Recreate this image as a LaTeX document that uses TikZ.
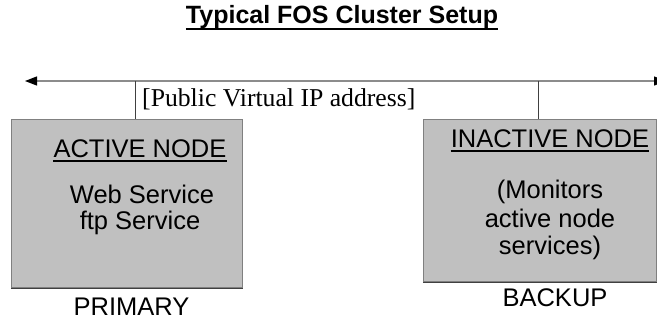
\documentclass[tikz,border=0pt]{standalone}
\usepackage{fontspec}
\setmainfont{Liberation Sans}
\newfontfamily\timesfont{Liberation Serif}
\usetikzlibrary{arrows.meta}
\definecolor{boxfill}{HTML}{C0C0C0}
\definecolor{boxedge}{HTML}{808080}
\definecolor{boxshadow}{HTML}{404040}
\definecolor{busline}{HTML}{8C8C8C}
\tikzset{
  nodebox/.style={rectangle, fill=boxfill, draw=boxedge, line width=1.2pt, inner sep=0pt, anchor=north west},
  txt/.style={inner sep=0pt, anchor=base, font=\fontsize{25.5}{30}\selectfont},
  ttl/.style={inner sep=0pt, anchor=base, font=\fontsize{25}{30}\selectfont\bfseries},
  ipl/.style={inner sep=0pt, anchor=base west, font=\fontsize{25.7}{30}\selectfont\timesfont},
  uline/.style={line width=1.5pt, black},
  tip/.style={line width=1pt, boxshadow},
}
\begin{document}
\begin{tikzpicture}[x=1pt, y=-1pt]
\useasboundingbox (0,0) rectangle (657,322);
% title
\node[ttl] (title) at (342,23) {Typical FOS Cluster Setup};
\draw[uline, line width=2pt] ([yshift=-6pt]title.base west) -- ([yshift=-6pt]title.base east);
% bus line
\coordinate (L) at (25,81);
\coordinate (R) at (666,81);
\draw[busline, line width=1.3pt, {Triangle[length=12pt,width=9pt,color=black]}-{Triangle[length=12pt,width=9pt,color=black]}] (L) -- (R);
\node[ipl] (ip) at (142,106) {[Public Virtual IP address]};
% boxes
\node[nodebox, minimum width=231pt, minimum height=168pt] (act) at (11,119) {};
\node[nodebox, minimum width=233pt, minimum height=162pt] (inact) at (423,119) {};
\draw[boxshadow, line width=1.3pt] (act.south west) -- (act.south east);
\draw[boxshadow, line width=1.3pt] (inact.south west) -- (inact.south east);
% drops
\coordinate (t1) at (135,81);
\coordinate (t2) at (538,81);
\draw[tip] (t1) -- (t1 |- act.north);
\draw[tip] (t2) -- (t2 |- inact.north);
% active node text
\node[txt] (acth) at (140,157) {ACTIVE NODE};
\draw[uline] ([yshift=-4pt]acth.base west) -- ([yshift=-4pt]acth.base east);
\node[txt] (web) at (142,203) {Web Service};
\node[txt] (ftp) at (140,229) {ftp Service};
% inactive node text
\node[txt] (inh) at (550,147) {INACTIVE NODE};
\draw[uline] ([yshift=-4pt]inh.base west) -- ([yshift=-4pt]inh.base east);
\node[txt] (mon) at (550,198) {(Monitors};
\node[txt] (actn) at (550,227) {active node};
\node[txt] (serv) at (550,254) {services)};
% labels
\node[txt] (prim) at (131.5,315) {PRIMARY};
\node[txt] (back) at (555,306) {BACKUP};
\end{tikzpicture}
\end{document}
